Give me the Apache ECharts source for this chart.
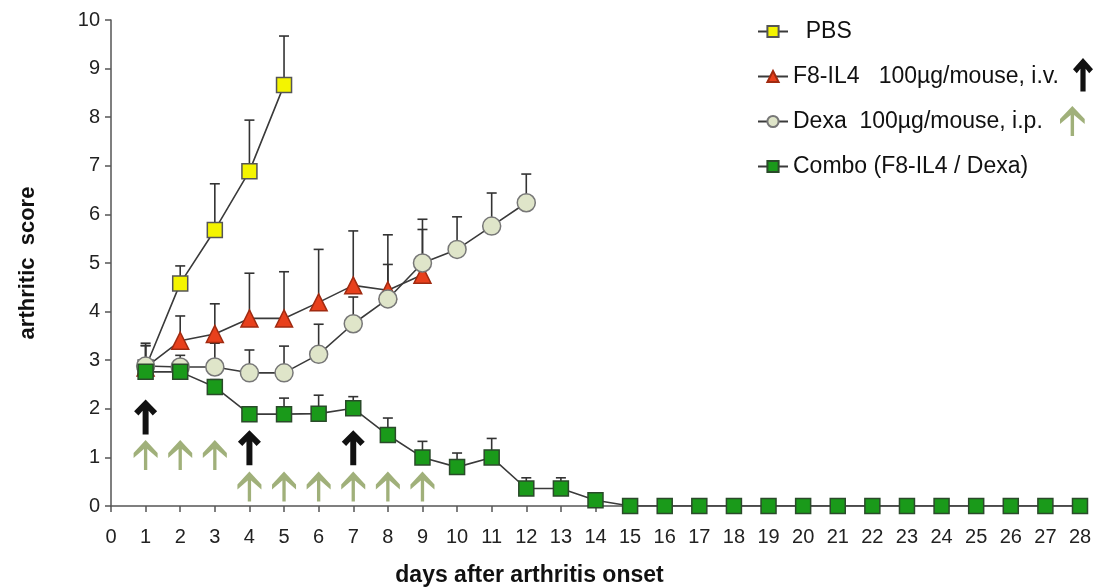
<!DOCTYPE html>
<html>
<head>
<meta charset="utf-8">
<script src="https://cdn.jsdelivr.net/npm/echarts@6/dist/echarts.min.js"></script>
<style>
  html, body { margin: 0; padding: 0; background: #fff; }
  #chart { width: 1101px; height: 588px; }
</style>
</head>
<body>
<div id="chart"></div>
<script>
var days = [1, 2, 3, 4, 5, 6, 7, 8, 9, 10, 11, 12, 13, 14, 15, 16, 17, 18, 19, 20, 21, 22, 23, 24, 25, 26, 27, 28];

// mean scores and upper error bar ends
var pbs = [2.85, 4.58, 5.68, 6.89, 8.66];
var pbsTop = [3.35, 4.94, 6.63, 7.94, 9.67];

var f8 = [2.85, 3.4, 3.54, 3.86, 3.86, 4.19, 4.54, 4.44, 4.76];
var f8Top = [3.3, 3.91, 4.16, 4.79, 4.82, 5.28, 5.66, 5.58, 5.69];

var dexa = [2.88, 2.86, 2.86, 2.74, 2.74, 3.12, 3.75, 4.26, 5.0, 5.28, 5.76, 6.24];
var dexaTop = [3.3, 3.1, 3.35, 3.21, 3.29, 3.74, 4.3, 4.97, 5.9, 5.95, 6.44, 6.83];

var combo = [2.76, 2.76, 2.45, 1.89, 1.89, 1.9, 2.01, 1.46, 1.0, 0.8, 1.0, 0.36, 0.36, 0.12,
             0, 0, 0, 0, 0, 0, 0, 0, 0, 0, 0, 0, 0, 0];
var comboTop = [2.9, 2.9, 2.6, 1.98, 2.22, 2.28, 2.25, 1.81, 1.33, 1.09, 1.39, 0.58, 0.58, 0.15];

// treatment arrows: [day, centre y]
var ivArrows = [[1, 1.83], [4, 1.2], [7, 1.2]];
var ipArrows = [[1, 1.05], [2, 1.05], [3, 1.05], [4, 0.4], [5, 0.4], [6, 0.4], [7, 0.4], [8, 0.4], [9, 0.4]];

var xTicks = [0, 28, 1];
var yTicks = [0, 10, 1];

var blackPts = [[10, 0], [20, 10], [16.2, 13.6], [12.6, 9.6], [12.6, 30], [7.4, 30], [7.4, 9.6], [3.8, 13.6], [0, 10]];
var greenPts = [[13, 0], [26, 13], [26, 18], [14.8, 9], [14.8, 30], [11.2, 30], [11.2, 9], [0, 18], [0, 13]];

function toPath(pts) {
  return 'path://M' + pts.map(function (p) { return p[0] + ',' + p[1]; }).join(' L') + ' Z';
}
function place(pts, dx, dy, sx, sy) {
  return pts.map(function (p) { return [p[0] * sx + dx, p[1] * sy + dy]; });
}

function pairs(vals) {
  return vals.map(function (v, i) { return [days[i], v]; });
}
function bars(vals, tops) {
  return tops.map(function (t, i) { return [days[i], vals[i], t]; });
}

function errorItem(params, api) {
  var x = api.value(0);
  var p0 = api.coord([x, api.value(1)]);
  var p1 = api.coord([x, api.value(2)]);
  var style = { stroke: '#333', lineWidth: 1.6 };
  return {
    type: 'group',
    children: [
      { type: 'line', shape: { x1: p0[0], y1: p0[1], x2: p1[0], y2: p1[1] }, style: style },
      { type: 'line', shape: { x1: p1[0] - 5, y1: p1[1], x2: p1[0] + 5, y2: p1[1] }, style: style }
    ]
  };
}

function errSeries(vals, tops) {
  return {
    type: 'custom',
    coordinateSystem: 'cartesian2d',
    renderItem: errorItem,
    data: bars(vals, tops),
    encode: { x: 0, y: [1, 2] },
    z: 1,
    silent: true
  };
}

function lineSeries(name, vals, symbol, fill, border, size) {
  return {
    name: name,
    type: 'line',
    data: pairs(vals),
    symbol: symbol,
    symbolSize: size,
    showAllSymbol: true,
    lineStyle: { color: '#3a3a3a', width: 1.6 },
    itemStyle: { color: fill, borderColor: border, borderWidth: 1.5 },
    z: 3
  };
}

var names = ['PBS', 'F8-IL4   100µg/mouse, i.v.', 'Dexa  100µg/mouse, i.p.', 'Combo (F8-IL4 / Dexa)'];
var greenColor = 'rgba(128,150,78,0.75)';

var myChart = echarts.init(document.getElementById('chart'));

var option = {
  animation: false,
  grid: { left: 111, right: 21, top: 20, bottom: 82, outerBoundsMode: 'none' },
  legend: {
    orient: 'vertical',
    left: 752,
    top: 15,
    itemWidth: 30,
    itemHeight: 14,
    itemGap: 22,
    data: names,
    formatter: function (name) { return name === 'PBS' ? '  PBS' : name; },
    textStyle: { fontFamily: 'Liberation Sans', fontSize: 23, color: '#111' }
  },
  xAxis: {
    type: 'value',
    min: xTicks[0],
    max: xTicks[1],
    interval: xTicks[2],
    name: 'days after arthritis onset',
    nameLocation: 'middle',
    nameGap: 58,
    nameTextStyle: { fontFamily: 'Liberation Sans', fontWeight: 'bold', fontSize: 23, color: '#111', padding: [0, 132, 0, 0] },
    splitLine: { show: false },
    axisLine: { lineStyle: { color: '#555', width: 1.5 } },
    axisTick: { length: 6, lineStyle: { color: '#555', width: 1.5 } },
    axisLabel: { fontFamily: 'Liberation Sans', fontSize: 20, color: '#222', margin: 21 }
  },
  yAxis: {
    type: 'value',
    min: yTicks[0],
    max: yTicks[1],
    interval: yTicks[2],
    name: 'arthritic  score',
    nameLocation: 'middle',
    nameGap: 72,
    nameTextStyle: { fontFamily: 'Liberation Sans', fontWeight: 'bold', fontSize: 22, color: '#111' },
    splitLine: { show: false },
    axisLine: { show: true, lineStyle: { color: '#555', width: 1.5 } },
    axisTick: { show: true, length: 6, lineStyle: { color: '#555', width: 1.5 } },
    axisLabel: { fontFamily: 'Liberation Sans', fontSize: 20, color: '#222', margin: 11 }
  },
  graphic: [
    { type: 'polygon', shape: { points: place(blackPts, 1073, 58, 1.0, 1.12) }, style: { fill: '#111' } },
    { type: 'polygon', shape: { points: place(greenPts, 1060, 106, 0.95, 1.0) }, style: { fill: greenColor } }
  ],
  series: [
    errSeries(pbs, pbsTop),
    errSeries(f8, f8Top),
    errSeries(dexa, dexaTop),
    errSeries(combo, comboTop),
    {
      type: 'scatter',
      data: ipArrows,
      symbol: toPath(greenPts),
      symbolSize: [24, 30],
      itemStyle: { color: greenColor, opacity: 1 },
      silent: true,
      z: 2
    },
    {
      type: 'scatter',
      data: ivArrows,
      symbol: toPath(blackPts),
      symbolSize: [23, 35],
      itemStyle: { color: '#111', opacity: 1 },
      silent: true,
      z: 2
    },
    lineSeries(names[0], pbs, 'rect', '#f4f400', '#555', 15),
    lineSeries(names[1], f8, 'triangle', '#e8401c', '#a02a10', 17),
    lineSeries(names[2], dexa, 'circle', '#dfe5c9', '#777', 18),
    lineSeries(names[3], combo, 'rect', '#1a9a1a', '#2a4a2a', 15)
  ]
};

myChart.setOption(option);
</script>
</body>
</html>
